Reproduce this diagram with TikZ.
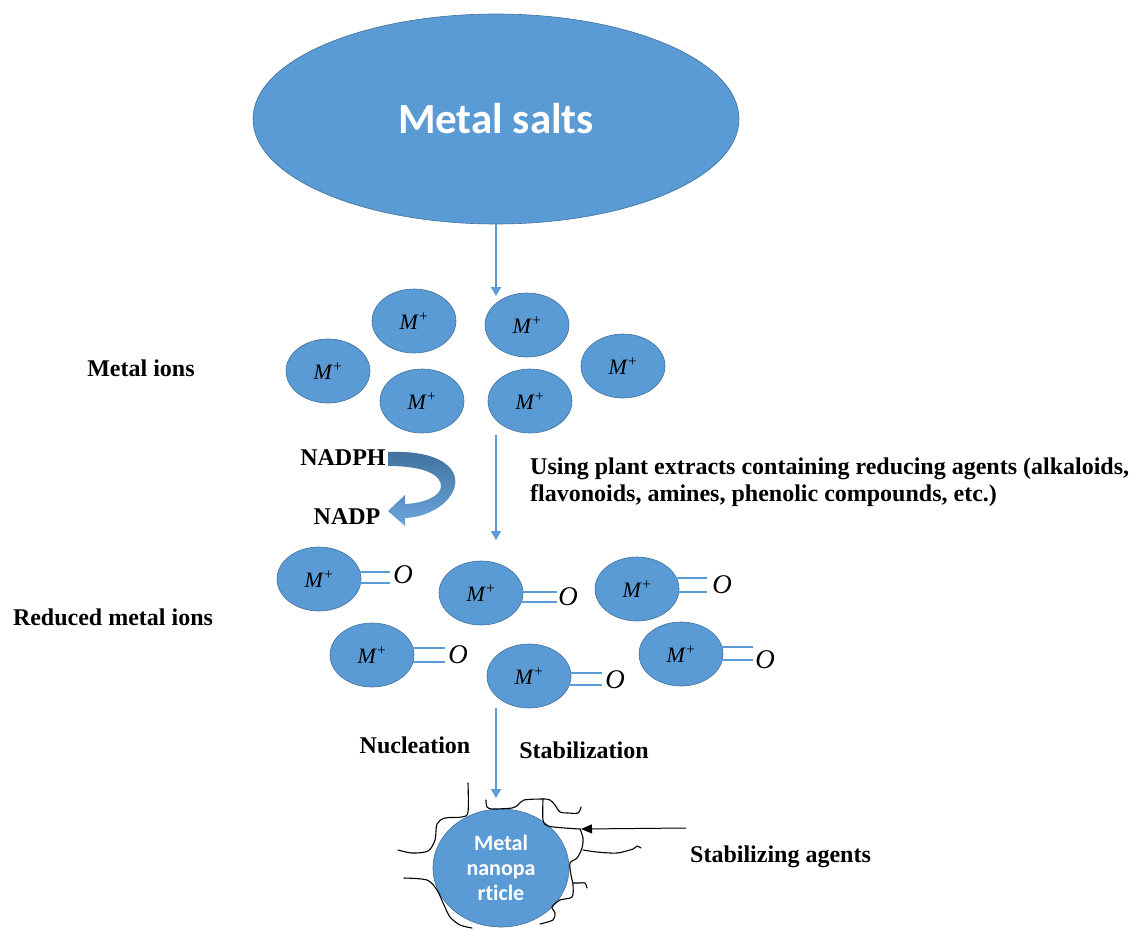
\documentclass[tikz,border=0pt]{standalone}
\usepackage{fontspec}
\setmainfont{Liberation Serif}
\newfontfamily\calib[Ligatures=NoCommon]{Carlito}
\usetikzlibrary{shapes.geometric,arrows.meta,calc}
\definecolor{ob}{HTML}{5B9BD5}
\definecolor{obd}{HTML}{41719C}
\definecolor{obl}{HTML}{6BA6DE}
\begin{document}
\begin{tikzpicture}[x=1pt,y=-1pt,
  ion/.style={ellipse, fill=ob, draw=obd, line width=0.6pt, minimum width=84pt, minimum height=64pt, inner sep=0pt, font=\fontsize{22}{24}\selectfont},
  flow/.style={draw=ob, line width=1.3pt, -{Triangle[width=10pt,length=9pt]}},
  lbl/.style={font=\fontsize{24}{27}\selectfont\bfseries, inner sep=0pt},
  bond/.style={draw=ob, line width=1.3pt},
  oxy/.style={font=\fontsize{27}{28}\selectfont\itshape, inner sep=0pt},
  agent/.style={draw=black, line width=1.1pt, line join=round, line cap=round}
]
\useasboundingbox (0,0) rectangle (1148,929);

% Metal salts
\node[ellipse, fill=ob, draw=obd, line width=0.6pt, minimum width=486pt, minimum height=210pt, inner sep=0pt,
      font=\calib\fontsize{43}{45}\selectfont\bfseries, text=white] (salt) at (496,119) {Metal salts};
\coordinate (a1end) at (496,296);
\draw[flow] (salt.south) -- (a1end);

% Metal ions
\node[ion] (m1) at (414,321) {\textit{M}\textsuperscript{+}};
\node[ion] (m2) at (527,325) {\textit{M}\textsuperscript{+}};
\node[ion] (m3) at (328,371) {\textit{M}\textsuperscript{+}};
\node[ion] (m4) at (422,401) {\textit{M}\textsuperscript{+}};
\node[ion] (m5) at (530,401) {\textit{M}\textsuperscript{+}};
\node[ion] (m6) at (623,366) {\textit{M}\textsuperscript{+}};
\node[lbl] (lions) at (141,368) {Metal ions};

% arrow 2
\coordinate (a2s) at (496,435);
\coordinate (a2e) at (496,540);
\draw[flow] (a2s) -- (a2e);
\node[lbl, anchor=north west, align=left, font=\fontsize{24}{27}\selectfont\bfseries] (plant) at (530,458)
  {Using plant extracts containing reducing agents (alkaloids,\\flavonoids, amines, phenolic compounds, etc.)};

% NADPH curved arrow
\node[lbl] (nadph) at (343,458) {NADPH};
\node[lbl] (nadp) at (347,517) {NADP};
\shade[top color=obd, bottom color=obl, draw=none]
  (388,452) .. controls (440,450) and (458,468) .. (455,485)
  .. controls (452,502) and (430,517) .. (405,518)
  -- (405,526) -- (388,511) -- (405,495) -- (405,504)
  .. controls (425,503) and (441,496) .. (441,486)
  .. controls (441,475) and (425,466) .. (388,466) -- cycle;

% Reduced metal ions
\node[ion] (r1) at (319,579) {\textit{M}\textsuperscript{+}};
\node[ion] (r2) at (481,593) {\textit{M}\textsuperscript{+}};
\node[ion] (r3) at (637,589) {\textit{M}\textsuperscript{+}};
\node[ion] (r4) at (372,655) {\textit{M}\textsuperscript{+}};
\node[ion] (r5) at (529,676) {\textit{M}\textsuperscript{+}};
\node[ion] (r6) at (681,654) {\textit{M}\textsuperscript{+}};
\node[lbl] (lred) at (113,617) {Reduced metal ions};

\node[oxy] (o1) at (403,575) {O};
\node[oxy] (o2) at (568,597) {O};
\node[oxy] (o3) at (722,585) {O};
\node[oxy] (o4) at (458,655) {O};
\node[oxy] (o5) at (615,680) {O};
\node[oxy] (o6) at (765,660) {O};

\draw[bond] ($(r1.east)+(-3,-7)$) -- (390,572) ($(r1.east)+(-3,4)$) -- (390,583);
\draw[bond] ($(r2.east)+(-3,-1)$) -- (557,592) ($(r2.east)+(-3,9)$) -- (557,602);
\draw[bond] ($(r3.east)+(-3,-11)$) -- (707,578) ($(r3.east)+(-3,3)$) -- (707,592);
\draw[bond] ($(r4.east)+(-3,-7)$) -- (445,648) ($(r4.east)+(-3,7)$) -- (445,662);
\draw[bond] ($(r5.east)+(-3,-3)$) -- (602,673) ($(r5.east)+(-3,9)$) -- (602,685);
\draw[bond] ($(r6.east)+(-3,-7)$) -- (753,647) ($(r6.east)+(-3,6)$) -- (753,660);

% arrow 3
\coordinate (a3s) at (496,708);
\coordinate (a3e) at (496,798);
\draw[flow] (a3s) -- (a3e);
\node[lbl] (nuc) at (415,745) {Nucleation};
\node[lbl] (stab) at (584,750) {Stabilization};

% nanoparticle
\node[ellipse, fill=ob, draw=obd, line width=0.6pt, minimum width=136pt, minimum height=118pt, inner sep=0pt,
      font=\calib\fontsize{22}{25}\selectfont\bfseries, text=white, align=center] (np) at (501,868) {Metal\\nanopa\\rticle};

% stabilizing agents
\draw[agent] plot[smooth, tension=0.5] coordinates {(468,783) (468,812) (462,817) (445,818) (437,824) (435,840) (428,851) (412,853) (398,850)};
\draw[agent] plot[smooth, tension=0.5] coordinates {(404,878) (427,880) (437,890) (444,905) (450,917) (460,925) (472,928)};
\draw[agent] plot[smooth, tension=0.5] coordinates {(486,800) (487,807) (493,809) (512,808) (518,805) (524,800) (543,799) (550,800) (555,805) (560,812) (568,813) (578,813) (581,807)};
\draw[agent] plot[smooth, tension=0.5] coordinates {(543,799) (543,820) (548,826) (565,828) (580,829)};
\draw[agent] plot[smooth, tension=0.5] coordinates {(580,829) (583,838) (582,848) (577,858) (570,863) (571,875) (573,885) (572,897) (560,900) (552,907) (555,913) (553,920) (540,924)};
\draw[agent] plot[smooth, tension=0.5] coordinates {(583,850) (597,852) (617,853) (633,849) (637,846) (641,848)};
\draw[agent] plot[smooth, tension=0.5] coordinates {(573,883) (580,883) (585,883) (587,888)};

\node[lbl, anchor=west] (sag) at (690,857) {Stabilizing agents};
\coordinate (sagstart) at (686,828);
\coordinate (sagtip) at (581,829);
\draw[black, line width=1pt, -{Triangle[width=9pt,length=11pt]}] (sagstart) -- (sagtip);
\end{tikzpicture}
\end{document}
